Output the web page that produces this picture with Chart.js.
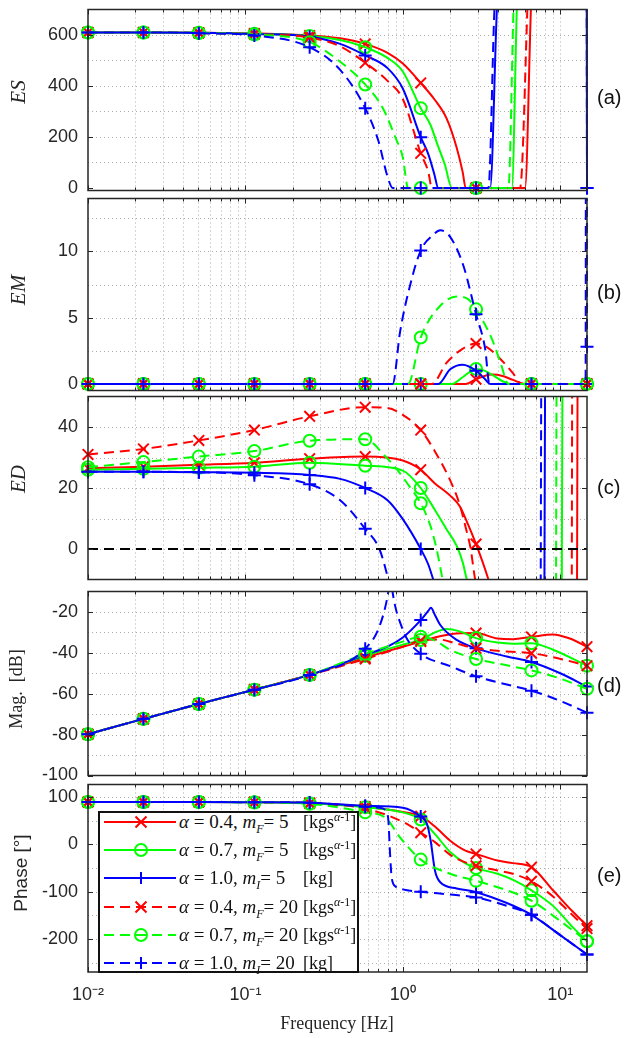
<!DOCTYPE html>
<html>
<head>
<meta charset="utf-8">
<script src="https://cdn.jsdelivr.net/npm/chart.js@4.4.1/dist/chart.umd.min.js"></script>
<style>
  body { margin: 0; background: #fff; }
  #page { position: relative; width: 625px; height: 1038px; overflow: hidden; color: #262626;
          font-family: "Liberation Sans", Arial, sans-serif; }
  canvas { position: absolute; left: 0; }
  .ytitle { position: absolute; transform: translate(-50%, -50%) rotate(-90deg); white-space: nowrap; }
  .serif { font-family: "Liberation Serif", "DejaVu Serif", serif; }
  .plab { position: absolute; left: 597px; font-size: 20px; color: #111; transform: translateY(-50%); }
  #legend { position: absolute; left: 98px; top: 811px; width: 257px; height: 158px; background: #fff;
            border: 2px solid #111; }
  .lrow { position: absolute; left: 0; height: 22px; width: 257px; }
  .lrow svg { position: absolute; left: 4px; top: 1px; }
  .ltxt { position: absolute; left: 79px; top: 0; font-size: 19px; line-height: 22px; white-space: nowrap; color: #111; }
  .lunit { position: absolute; left: 203px; top: 0; font-size: 18px; line-height: 22px; white-space: nowrap; color: #111; }
  sub, sup { font-size: 12px; line-height: 0; }
</style>
</head>
<body>
<div id="page">
  <canvas id="cES" width="625" height="200" style="top:0px"></canvas>
  <canvas id="cEM" width="625" height="211" style="top:189px"></canvas>
  <canvas id="cED" width="625" height="202" style="top:387px"></canvas>
  <canvas id="cMag" width="625" height="203" style="top:582px"></canvas>
  <canvas id="cPh" width="625" height="263" style="top:775px"></canvas>

  <div class="ytitle serif" style="left:18px; top:92px; font-size:21px;"><i>ES</i></div>
  <div class="ytitle serif" style="left:18px; top:290px; font-size:21px;"><i>EM</i></div>
  <div class="ytitle serif" style="left:18px; top:479px; font-size:21px;"><i>ED</i></div>
  <div class="ytitle serif" style="left:16px; top:689px; font-size:18px;">Mag.&nbsp;&nbsp;[dB]</div>
  <div class="ytitle" style="left:21px; top:873px; font-size:19px;">Phase [°]</div>

  <div class="plab" style="top:97px">(a)</div>
  <div class="plab" style="top:292px">(b)</div>
  <div class="plab" style="top:487px">(c)</div>
  <div class="plab" style="top:685px">(d)</div>
  <div class="plab" style="top:875px">(e)</div>

  <div class="serif" style="position:absolute; left:337px; top:1023px; transform:translate(-50%,-50%); font-size:18px; white-space:nowrap;">Frequency [Hz]</div>

  <div id="legend" class="serif"></div>
</div>

<script>
// frecuencias donde van los marcadores
const freqMarks = [0.01, 0.0225, 0.0506, 0.114, 0.256, 0.577, 1.30, 2.92, 6.57, 14.8];
const xMajorTicks = [0.01, 0.1, 1, 10];
const xTickLabels = ['10⁻²', '10⁻¹', '10⁰', '10¹'];

// leyenda
const seriesAlpha = ['0.4', '0.7', '1.0', '0.4', '0.7', '1.0'];
const seriesMassSym = ['F', 'F', 'I', 'F', 'F', 'I'];
const seriesMass = ['5', '5', '5', '20', '20', '20'];
const seriesUnit = ['kgs', 'kgs', 'kg', 'kgs', 'kgs', 'kg'];

// (a) ES
const esR5 = [[0.01,610],[0.0225,610],[0.0506,609],[0.114,606],[0.256,598],[0.4,587],[0.577,565],[0.8,530],[1.0,488],[1.30,412],[1.6,345],[1.9,272],[2.2,158],[2.4,63],[2.51,0],[2.92,0],[5.98,0],[6.57,760],[14.8,3000]];
const esG5 = [[0.01,610],[0.0225,610],[0.0506,609],[0.114,605],[0.256,596],[0.4,580],[0.577,552],[0.8,510],[1.0,457],[1.30,313],[1.5,247],[1.65,175],[1.85,92],[2.05,0],[2.92,0],[4.93,0],[5.30,700],[6.57,2500],[14.8,3000]];
const esB5 = [[0.01,610],[0.0225,610],[0.0506,609],[0.114,604],[0.256,593],[0.4,565],[0.577,520],[0.8,470],[1.0,390],[1.30,199],[1.45,134],[1.58,58],[1.68,0],[2.92,0],[3.59,0],[3.96,700],[6.57,3000],[14.5,3000],[14.8,0]];
const esR20 = [[0.01,610],[0.0225,610],[0.0506,608],[0.114,603],[0.256,590],[0.4,555],[0.577,491],[0.8,420],[1.0,349],[1.30,136],[1.45,65],[1.53,0],[2.92,0],[5.56,0],[6.2,720],[6.57,1200],[14.8,3000]];
const esG20 = [[0.01,610],[0.0225,610],[0.0506,608],[0.114,602],[0.256,572],[0.4,495],[0.577,406],[0.75,311],[0.9,196],[1.0,120],[1.08,0],[1.30,0],[2.92,0],[4.69,0],[5.05,700],[6.57,2500],[14.8,3000]];
const esB20 = [[0.01,610],[0.0225,610],[0.0506,607],[0.114,598],[0.256,552],[0.4,463],[0.577,313],[0.7,184],[0.8,44],[0.863,0],[1.30,0],[2.92,0],[3.5,0],[3.82,700],[6.57,3000],[14.5,3000],[14.8,0]];

// (b) EM
const emR5 = [[0.01,0],[0.0225,0],[0.0506,0],[0.114,0],[0.256,0],[0.577,0],[1.30,0],[2.51,0],[2.92,0.35],[3.3,0.6],[3.7,0.7],[4.3,0.6],[5.0,0.3],[5.98,0],[6.57,0],[14.8,0]];
const emG5 = [[0.01,0],[0.0225,0],[0.0506,0],[0.114,0],[0.256,0],[0.577,0],[1.30,0],[2.05,0],[2.4,0.5],[2.92,1.13],[3.3,1.0],[3.8,0.6],[4.3,0.2],[4.8,0],[6.57,0],[14.8,0]];
const emB5 = [[0.01,0],[0.0225,0],[0.0506,0],[0.114,0],[0.256,0],[0.577,0],[1.30,0],[1.68,0],[2.0,1.1],[2.4,1.45],[2.92,1.0],[3.3,0.4],[3.59,0],[6.57,0],[14.8,0]];
const emR20 = [[0.01,0],[0.0225,0],[0.0506,0],[0.114,0],[0.256,0],[0.577,0],[1.30,0],[1.53,0],[1.9,1.6],[2.37,2.6],[2.92,3.05],[3.4,2.8],[4.15,1.9],[5.05,0.75],[5.65,0],[6.57,0],[14.8,0]];
const emG20 = [[0.01,0],[0.0225,0],[0.0506,0],[0.114,0],[0.256,0],[0.577,0],[1.08,0],[1.30,3.5],[1.73,5.9],[2.2,6.6],[2.6,6.4],[2.92,5.63],[3.68,3.4],[4.2,1.5],[4.69,0],[6.57,0],[14.8,0]];
const emB20 = [[0.01,0],[0.0225,0],[0.0506,0],[0.114,0],[0.256,0],[0.577,0],[0.863,0],[0.96,3.9],[1.11,7.4],[1.30,10.07],[1.56,11.25],[1.73,11.6],[2.0,11.1],[2.43,8.9],[2.92,5.25],[3.34,2.6],[3.55,0],[6.57,0],[14.5,0],[14.65,60],[14.8,2.8]];

// (c) ED
const edR5 = [[0.01,26.5],[0.0225,27],[0.0506,27.6],[0.114,28.3],[0.256,29.6],[0.577,30.3],[1.0,29],[1.30,26],[1.6,21.5],[2.0,17.5],[2.3,14],[2.6,8],[2.92,1.6],[3.2,-4],[3.5,-10],[3.8,-16],[6.57,-200],[12.5,-200],[13.1,200],[14.8,300]];
const edG5 = [[0.01,26],[0.0225,26.3],[0.0506,26.6],[0.114,27],[0.256,28.3],[0.577,27.3],[1.0,25.7],[1.30,20],[1.6,12.8],[1.9,6.4],[2.2,1],[2.4,-4.3],[2.55,-10],[2.8,-17],[6.57,-200],[9.95,-200],[10.55,200],[14.8,300]];
const edB5 = [[0.01,25.3],[0.0225,25.3],[0.0506,25.2],[0.114,25],[0.256,24.3],[0.4,23],[0.577,20],[0.8,16],[1.0,9.8],[1.30,0],[1.45,-5],[1.56,-10],[1.7,-16],[6.57,-200],[7.7,-200],[8.2,200],[14.8,300]];
const edR20 = [[0.01,31],[0.0225,32.8],[0.0506,35.6],[0.114,39],[0.256,43.5],[0.577,46.5],[0.8,46.2],[1.0,44],[1.30,39],[1.6,32],[2.0,22.5],[2.3,14.5],[2.5,7.4],[2.7,0],[2.85,-8.5],[3.0,-16],[6.57,-200],[11.55,-200],[12.15,200],[14.8,300]];
const edG20 = [[0.01,26.8],[0.0225,28.5],[0.0506,30.3],[0.114,32.1],[0.256,35.5],[0.577,36],[0.77,30.5],[0.92,26],[1.11,20.3],[1.30,15],[1.5,7.5],[1.64,0],[1.79,-10],[2.0,-22],[6.57,-200],[9.12,-200],[9.72,200],[14.8,300]];
const edB20 = [[0.01,25.3],[0.0225,25.3],[0.0506,25.2],[0.114,24.2],[0.256,21.2],[0.4,16],[0.577,6.6],[0.71,0],[0.81,-10],[0.95,-25],[6.57,-200],[7.28,-200],[7.78,200],[14.8,300]];
const edZero = [[0.01,0],[14.8,0]];

// (d) Mag [dB]
const magR5 = [[0.01,-79.8],[0.0225,-72.3],[0.0506,-65],[0.114,-58],[0.256,-50.8],[0.577,-42.3],[1.0,-37],[1.30,-34.5],[1.7,-32],[2.2,-30.5],[2.92,-30.3],[4.0,-33],[5.0,-33.3],[6.57,-32.2],[9.0,-31],[11.5,-33],[14.8,-37]];
const magG5 = [[0.01,-79.8],[0.0225,-72.3],[0.0506,-65],[0.114,-58],[0.256,-50.8],[0.577,-41.5],[1.0,-36],[1.30,-33.7],[1.6,-30],[1.9,-28.3],[2.3,-29.5],[2.92,-32.8],[4.0,-35],[5.0,-35.5],[6.57,-35.3],[9.0,-38.5],[14.8,-46.3]];
const magB5 = [[0.01,-79.8],[0.0225,-72.3],[0.0506,-65],[0.114,-58],[0.256,-50.8],[0.577,-41],[0.8,-37],[1.0,-32.5],[1.30,-24],[1.45,-19.5],[1.51,-18],[1.6,-21.5],[1.73,-26.4],[2.2,-33.7],[2.92,-37.8],[4.58,-41.8],[6.57,-44.5],[10,-50],[14.8,-56.5]];
const magR20 = [[0.01,-79.8],[0.0225,-72.3],[0.0506,-65],[0.114,-58],[0.256,-50.8],[0.577,-43],[1.0,-37],[1.30,-34],[1.7,-33.5],[2.2,-35.5],[2.92,-37.8],[4.0,-39],[6.57,-40.2],[9.5,-42.5],[14.8,-46.3]];
const magG20 = [[0.01,-79.8],[0.0225,-72.3],[0.0506,-65],[0.114,-58],[0.256,-50.8],[0.577,-40.5],[1.0,-34.5],[1.30,-32.1],[1.6,-34],[2.0,-38.5],[2.92,-43],[4.5,-46],[6.57,-48.6],[9.5,-52],[14.8,-57.6]];
const magB20 = [[0.01,-79.8],[0.0225,-72.3],[0.0506,-65],[0.114,-58],[0.256,-50.8],[0.577,-38],[0.716,-26.4],[0.81,-10],[0.835,-2],[0.86,-10],[0.9,-18],[0.97,-26],[1.06,-33],[1.30,-40.5],[2.0,-46.5],[2.92,-51.5],[4.58,-55.5],[6.57,-58.5],[10,-63.5],[14.8,-69.3]];

// (e) Phase [°]
const phR5 = [[0.01,90],[0.0225,90],[0.0506,90],[0.114,89.5],[0.256,88],[0.577,80],[1.0,69],[1.30,60],[1.6,38],[2.0,8],[2.5,-13],[2.92,-20],[4.0,-34],[5.0,-39.5],[6.57,-48],[9.0,-97],[12.0,-142],[14.8,-172]];
const phG5 = [[0.01,90],[0.0225,90],[0.0506,90],[0.114,89.5],[0.256,87.5],[0.577,79],[1.0,68],[1.30,53],[1.6,22],[2.0,-16],[2.5,-40],[2.92,-50],[4.0,-62],[5.1,-76],[6.57,-97],[9.0,-130],[12.0,-175],[14.8,-205]];
const phB5 = [[0.01,90],[0.0225,90],[0.0506,90],[0.114,89.5],[0.256,88.5],[0.577,82],[1.0,78],[1.30,59],[1.42,45],[1.5,10],[1.6,-55],[1.73,-80],[2.2,-93],[2.92,-101],[4.58,-124],[6.57,-149],[10,-192],[14.8,-233]];
const phR20 = [[0.01,90],[0.0225,90],[0.0506,90],[0.114,89.5],[0.256,87],[0.577,76],[1.0,48],[1.30,25],[1.6,5],[2.0,-22],[2.5,-38],[2.92,-45],[4.0,-55],[5.0,-62],[6.57,-78],[9.0,-110],[12.0,-150],[14.8,-178]];
const phG20 = [[0.01,90],[0.0225,90],[0.0506,90],[0.114,89],[0.256,86],[0.577,68],[0.78,56],[0.96,15],[1.30,-32],[2.0,-62],[2.92,-77],[4.58,-97],[6.57,-119],[10,-162],[14.8,-205]];
const phB20 = [[0.01,90],[0.0225,90],[0.0506,90],[0.114,89.5],[0.256,88.5],[0.577,80],[0.7,78],[0.78,72],[0.81,50],[0.83,-20],[0.85,-70],[0.9,-89],[1.0,-95],[1.30,-100],[2.0,-106],[2.92,-112],[4.58,-130],[6.57,-149],[10,-192],[14.8,-233]];

// ticks de los ejes y
const esTicks = [0, 200, 400, 600], esMinor = [100, 300, 500];
const emTicks = [0, 5, 10], emMinor = [2.5, 7.5, 12.5];
const edTicks = [0, 20, 40], edMinor = [10, 30];
const magTicks = [-100, -80, -60, -40, -20], magMinor = [-90, -70, -50, -30];
const phTicks = [-200, -100, 0, 100], phMinor = [-250, -150, -50, 50];

// estilos
const seriesColor = ['#ff0000', '#00ff00', '#0000ff', '#ff0000', '#00ff00', '#0000ff'];
const seriesDash = [false, false, false, true, true, true];
const seriesMarker = ['crossRot', 'circle', 'cross', 'crossRot', 'circle', 'cross'];
const markerRadius = { crossRot: 7.5, circle: 6, cross: 6.5 };
const axisGray = '#262626';
const sansFont = '"Liberation Sans", Arial, sans-serif';

const xMinorTicks = [];
xMajorTicks.forEach(m => { for (let k = 2; k <= 9; k++) if (m * k <= 14.8) xMinorTicks.push(m * k); });
const xAllTicks = xMajorTicks.concat(xMinorTicks).sort((a, b) => a - b);

const isMark = v => v !== undefined && freqMarks.some(f => Math.abs(f - v) < 1e-9);
const isMajorX = v => xMajorTicks.some(f => Math.abs(f - v) / f < 1e-6);

// grilla punteada, caja y ticks hacia adentro como en MATLAB
const matlabAxes = {
  id: 'matlabAxes',
  beforeDatasetsDraw(chart, args, opts) {
    const { ctx, chartArea: a, scales: { x, y } } = chart;
    ctx.save();
    ctx.strokeStyle = 'rgba(38,38,38,0.38)';
    ctx.lineWidth = 1;
    ctx.setLineDash([1, 3]);
    ctx.beginPath();
    xAllTicks.forEach(v => {
      const px = Math.round(x.getPixelForValue(v)) + 0.5;
      if (px > a.left + 2 && px < a.right - 2) { ctx.moveTo(px, a.top); ctx.lineTo(px, a.bottom); }
    });
    opts.yGrid.forEach(v => {
      const py = Math.round(y.getPixelForValue(v)) + 0.5;
      if (py > a.top + 2 && py < a.bottom - 2) { ctx.moveTo(a.left, py); ctx.lineTo(a.right, py); }
    });
    ctx.stroke();
    ctx.restore();
  },
  afterDatasetsDraw(chart, args, opts) {
    const { ctx, chartArea: a, scales: { x, y } } = chart;
    ctx.save();
    ctx.strokeStyle = axisGray;
    ctx.lineWidth = 1;
    ctx.setLineDash([]);
    ctx.beginPath();
    xAllTicks.forEach(v => {
      const px = Math.round(x.getPixelForValue(v)) + 0.5;
      const len = isMajorX(v) ? 5 : 3;
      ctx.moveTo(px, a.top); ctx.lineTo(px, a.top + len);
      ctx.moveTo(px, a.bottom); ctx.lineTo(px, a.bottom - len);
    });
    opts.yTicks.forEach(v => {
      const py = Math.round(y.getPixelForValue(v)) + 0.5;
      ctx.moveTo(a.left, py); ctx.lineTo(a.left + 5, py);
      ctx.moveTo(a.right, py); ctx.lineTo(a.right - 5, py);
    });
    ctx.stroke();
    ctx.lineWidth = 1.5;
    ctx.strokeRect(a.left, a.top, a.right - a.left, a.bottom - a.top);
    ctx.restore();
  }
};

function makeDatasets(list, clip) {
  return list.map((pts, i) => ({
    data: pts.map(([fx, fy]) => ({ x: fx, y: fy })),
    borderColor: seriesColor[i],
    borderWidth: 2,
    borderDash: seriesDash[i] ? [10, 6] : [],
    pointStyle: seriesMarker[i],
    pointRadius: ctx => (ctx.raw && isMark(ctx.raw.x)) ? markerRadius[seriesMarker[i]] : 0,
    pointBorderColor: seriesColor[i],
    pointBackgroundColor: 'rgba(0,0,0,0)',
    pointBorderWidth: 2,
    fill: false,
    cubicInterpolationMode: 'monotone',
    order: 10 - i,
    clip: clip
  }));
}

// quita el relleno que Chart.js agrega por media etiqueta
function noScalePadding(s) {
  s.paddingTop = 0; s.paddingBottom = 0; s.paddingLeft = 0; s.paddingRight = 0;
}

function makePanel(id, cfg) {
  const datasets = makeDatasets(cfg.series, cfg.clip);
  if (cfg.extra) datasets.push(cfg.extra);
  new Chart(document.getElementById(id), {
    type: 'line',
    data: { datasets },
    options: {
      responsive: false,
      animation: false,
      events: [],
      layout: { padding: { top: cfg.padTop, bottom: cfg.padBottom, left: 0, right: 38 } },
      plugins: {
        legend: { display: false },
        tooltip: { enabled: false },
        matlabAxes: { yGrid: cfg.ticks.concat(cfg.minor), yTicks: cfg.ticks }
      },
      scales: {
        x: {
          type: 'logarithmic',
          min: 0.01,
          max: 14.8,
          display: !!cfg.showX,
          afterBuildTicks: s => { s.ticks = xAllTicks.map(v => ({ value: v })); },
          afterFit: s => { s.height = cfg.xHeight || 0; noScalePadding(s); },
          grid: { display: false, drawTicks: false },
          border: { display: false },
          ticks: {
            autoSkip: false,
            maxRotation: 0,
            padding: 12,
            color: axisGray,
            font: { family: sansFont, size: 18 },
            callback: v => { const k = xMajorTicks.findIndex(f => Math.abs(f - v) / f < 1e-6); return k >= 0 ? xTickLabels[k] : ''; }
          }
        },
        y: {
          type: 'linear',
          min: cfg.min,
          max: cfg.max,
          afterBuildTicks: s => { s.ticks = cfg.ticks.map(v => ({ value: v })); },
          afterFit: s => { s.width = 88; noScalePadding(s); },
          grid: { display: false, drawTicks: false },
          border: { display: false },
          ticks: { padding: 10, color: axisGray, font: { family: sansFont, size: 18 } }
        }
      }
    },
    plugins: [matlabAxes]
  });
}

makePanel('cES', { series: [esR5, esG5, esB5, esR20, esG20, esB20], min: -10, max: 700,
  ticks: esTicks, minor: esMinor, padTop: 4, padBottom: 9, clip: { left: 10, right: 10, top: 0, bottom: 8 } });
makePanel('cEM', { series: [emR5, emG5, emB5, emR20, emG20, emB20], min: -0.5, max: 14,
  ticks: emTicks, minor: emMinor, padTop: 8, padBottom: 8, clip: { left: 10, right: 10, top: 0, bottom: 8 } });
makePanel('cED', { series: [edR5, edG5, edB5, edR20, edG20, edB20], min: -10, max: 50,
  ticks: edTicks, minor: edMinor, padTop: 8, padBottom: 8, clip: { left: 10, right: 10, top: 0, bottom: 0 },
  extra: { data: edZero.map(([fx, fy]) => ({ x: fx, y: fy })), borderColor: '#000', borderWidth: 2,
           borderDash: [10, 6], pointRadius: 0, fill: false, order: 0, clip: 0 } });
makePanel('cMag', { series: [magR5, magG5, magB5, magR20, magG20, magB20], min: -100, max: -10,
  ticks: magTicks, minor: magMinor, padTop: 8, padBottom: 8, clip: { left: 10, right: 10, top: 0, bottom: 8 } });
makePanel('cPh', { series: [phR5, phG5, phB5, phR20, phG20, phB20], min: -270, max: 127,
  ticks: phTicks, minor: phMinor, padTop: 8, padBottom: 0, showX: true, xHeight: 66,
  clip: { left: 10, right: 10, top: 8, bottom: 8 } });

// leyenda en HTML
const legend = document.getElementById('legend');
seriesAlpha.forEach((al, i) => {
  const row = document.createElement('div');
  row.className = 'lrow';
  row.style.top = (-2 + 28.2 * i) + 'px';
  const c = seriesColor[i];
  const dash = seriesDash[i] ? 'stroke-dasharray="10 6"' : '';
  let mk = '';
  if (seriesMarker[i] === 'circle') mk = `<circle cx="37" cy="10" r="6" fill="none" stroke="${c}" stroke-width="2"/>`;
  else if (seriesMarker[i] === 'cross') mk = `<path d="M31 10H43M37 4V16" stroke="${c}" stroke-width="2"/>`;
  else mk = `<path d="M31.5 4.5L42.5 15.5M42.5 4.5L31.5 15.5" stroke="${c}" stroke-width="2"/>`;
  const unit = seriesUnit[i] === 'kgs' ? 'kgs<sup><i>α</i>-1</sup>' : 'kg';
  row.innerHTML =
    `<svg width="74" height="20"><line x1="0" y1="10" x2="72" y2="10" stroke="${c}" stroke-width="2" ${dash}/>${mk}</svg>` +
    `<span class="ltxt"><i>α</i> = ${al}, <i>m</i><sub><i>${seriesMassSym[i]}</i></sub>= ${seriesMass[i]}</span>` +
    `<span class="lunit">[${unit}]</span>`;
  legend.appendChild(row);
});
</script>
</body>
</html>
